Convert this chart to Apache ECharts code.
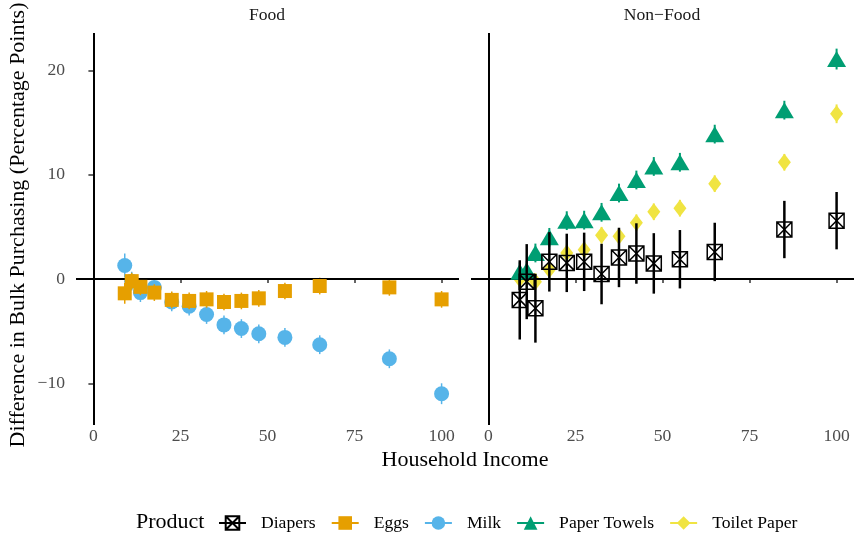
<!DOCTYPE html>
<html><head><meta charset="utf-8">
<script src="https://cdn.jsdelivr.net/npm/echarts@6/dist/echarts.min.js"></script>
<style>html,body{margin:0;padding:0;background:#fff}#c{width:854px;height:539px}</style>
</head><body><div id="c"></div>
<script>
// ---- data ----
const income = [9, 11, 13.5, 17.5, 22.5, 27.5, 32.5, 37.5, 42.5, 47.5, 55, 65, 85, 100];
const eggsVal   = [-1.37, -0.2, -0.75, -1.3, -2.0, -2.1, -1.95, -2.2, -2.1, -1.85, -1.15, -0.67, -0.8, -1.95];
const eggsErr   = [1.0, 0.8, 0.8, 0.8, 0.8, 0.8, 0.8, 0.8, 0.8, 0.8, 0.8, 0.8, 0.8, 0.8];
const milkVal   = [1.3, -0.2, -1.3, -0.8, -2.2, -2.6, -3.4, -4.4, -4.75, -5.25, -5.6, -6.3, -7.65, -11.0];
const milkErr   = [1.15, 0.9, 0.9, 0.9, 0.9, 0.9, 0.9, 0.9, 0.9, 0.9, 0.9, 0.9, 0.9, 1.0];
const diapersVal = [-2.0, -0.25, -2.8, 1.65, 1.55, 1.65, 0.48, 2.07, 2.45, 1.5, 1.9, 2.6, 4.75, 5.6];
const diapersErr = [3.8, 3.6, 3.3, 2.85, 2.8, 2.8, 2.9, 2.85, 2.9, 2.9, 2.8, 2.8, 2.75, 2.75];
const towelsVal = [0.7, 0.85, 2.5, 4.0, 5.6, 5.65, 6.4, 8.25, 9.5, 10.8, 11.2, 13.9, 16.2, 21.1];
const towelsErr = [0.9, 0.9, 0.9, 0.9, 0.9, 0.9, 0.9, 0.9, 0.9, 0.9, 0.9, 0.9, 0.9, 1.0];
const toiletVal = [0.0, 0.3, -0.25, 0.9, 2.5, 2.8, 4.2, 4.1, 5.4, 6.45, 6.8, 9.15, 11.2, 15.85];
const toiletErr = [0.8, 0.8, 0.8, 0.8, 0.8, 0.8, 0.8, 0.8, 0.8, 0.8, 0.8, 0.8, 0.8, 0.9];
const xTicks = [0, 25, 50, 75, 100];
const yTicks = [-10, 0, 10, 20];
const products = ['Diapers', 'Eggs', 'Milk', 'Paper Towels', 'Toilet Paper'];
const facets = ['Food', 'Non\u2212Food'];

const FONT = 'Liberation Serif';
const COL = {Diapers:'#000000', Eggs:'#E69F00', Milk:'#56B4E9', 'Paper Towels':'#009E73', 'Toilet Paper':'#F0E442'};
const boxX = 'path://M0,0L10,0L10,10L0,10Z M0,0L10,10 M10,0L0,10';
const SYM = {
  Diapers: {symbol: boxX, size: 15, style: {color:'rgba(255,255,255,0)', borderColor:'#000', borderWidth:1.5}},
  Eggs: {symbol:'rect', size: 14, style:{color:COL.Eggs}},
  Milk: {symbol:'circle', size: 15, style:{color:COL.Milk}},
  'Paper Towels': {symbol:'triangle', size:[19,16], style:{color:COL['Paper Towels']}},
  'Toilet Paper': {symbol:'diamond', size:[13,17], style:{color:COL['Toilet Paper']}}
};

function errSeries(name, gi, vals, errs, width, z) {
  const color = COL[name];
  return {
    type:'custom', name, xAxisIndex: gi, yAxisIndex: gi, z, silent:true,
    data: income.map((x,i)=>[x, vals[i]-errs[i], vals[i]+errs[i]]),
    renderItem: (params, api) => {
      const p1 = api.coord([api.value(0), api.value(1)]);
      const p2 = api.coord([api.value(0), api.value(2)]);
      return {type:'line', shape:{x1:p1[0],y1:p1[1],x2:p2[0],y2:p2[1]}, style:{stroke:color, lineWidth:width}};
    }
  };
}
function ptSeries(name, gi, vals, z) {
  const s = SYM[name];
  return {
    type:'scatter', name, xAxisIndex: gi, yAxisIndex: gi, z, silent:true,
    symbol: s.symbol, symbolSize: s.size,
    itemStyle: Object.assign({opacity:1}, s.style),
    data: income.map((x,i)=>[x, vals[i]])
  };
}
function legendSeries(name) {
  const s = SYM[name];
  return {
    type:'line', name, xAxisIndex:0, yAxisIndex:0, data:[],
    symbol: s.symbol, symbolSize: s.size,
    itemStyle: Object.assign({opacity:1}, s.style),
    lineStyle: {color: COL[name], width: 1.5}
  };
}
function refLines(gi) {
  return {
    type:'scatter', name:'ref'+gi, xAxisIndex:gi, yAxisIndex:gi, z:20, data:[], silent:true,
    markLine: {silent:true, symbol:'none', animation:false, label:{show:false},
      lineStyle:{color:'#000', width:2, type:'solid'},
      data:[{xAxis:0},{yAxis:0}]}
  };
}
const minusFmt = v => String(v).replace('-', '\u2212');

const grids = [
  {left:76, right:395, top:33, bottom:114},
  {left:471, right:0, top:33, bottom:114}
];
const xAxes = grids.map((g,i)=>({
  type:'value', gridIndex:i, min:-5, max:105,
  axisLine:{show:false}, splitLine:{show:false},
  axisTick:{show:true, length:4, customValues:xTicks, lineStyle:{color:'#333', width:1.5}},
  axisLabel:{customValues:xTicks, color:'#4d4d4d', fontSize:17.6, fontFamily:FONT, margin:2}
}));
const yAxes = grids.map((g,i)=>({
  type:'value', gridIndex:i, min:-14, max:23.6,
  axisLine:{show:false}, splitLine:{show:false},
  axisTick:{show:i===0, length:5, customValues:yTicks, lineStyle:{color:'#333', width:1.5}},
  axisLabel:{show:i===0, customValues:yTicks, formatter:minusFmt, color:'#4d4d4d', fontSize:17.6, fontFamily:FONT, margin:11}
}));

const series = [
  ...products.map(legendSeries),
  errSeries('Milk', 0, milkVal, milkErr, 1.5, 2), ptSeries('Milk', 0, milkVal, 3),
  errSeries('Eggs', 0, eggsVal, eggsErr, 1.5, 4), ptSeries('Eggs', 0, eggsVal, 5),
  errSeries('Toilet Paper', 1, toiletVal, toiletErr, 2, 2), ptSeries('Toilet Paper', 1, toiletVal, 3),
  errSeries('Paper Towels', 1, towelsVal, towelsErr, 2, 4), ptSeries('Paper Towels', 1, towelsVal, 5),
  errSeries('Diapers', 1, diapersVal, diapersErr, 2.5, 6), ptSeries('Diapers', 1, diapersVal, 7),
  refLines(0), refLines(1)
];

const chart = echarts.init(document.getElementById('c'));
chart.setOption({
  animation:false,
  backgroundColor:'#ffffff',
  grid: grids, xAxis: xAxes, yAxis: yAxes, series,
  legend: {
    data: products, left: 213, top: 509, orient:'horizontal',
    itemWidth: 27, itemHeight: 17, itemGap: 15, selectedMode:false,
    textStyle:{fontFamily:FONT, fontSize:17.6, color:'#000', padding:[0,0,0,10]}
  },
  graphic: [
    {type:'text', style:{text:facets[0], font:'17.6px "Liberation Serif"', fill:'#1a1a1a', x:267, y:15, align:'center', verticalAlign:'middle'}},
    {type:'text', style:{text:facets[1], font:'17.6px "Liberation Serif"', fill:'#1a1a1a', x:662, y:15, align:'center', verticalAlign:'middle'}},
    {type:'text', style:{text:'Household Income', font:'22px "Liberation Serif"', fill:'#000', x:465, y:460, align:'center', verticalAlign:'middle'}},
    {type:'text', x:18, y:225, rotation:Math.PI/2, style:{text:'Difference in Bulk Purchasing (Percentage Points)', font:'22px "Liberation Serif"', fill:'#000', x:0, y:0, align:'center', verticalAlign:'middle'}},
    {type:'text', style:{text:'Product', font:'22px "Liberation Serif"', fill:'#000', x:136, y:522, align:'left', verticalAlign:'middle'}}
  ]
});
</script></body></html>
